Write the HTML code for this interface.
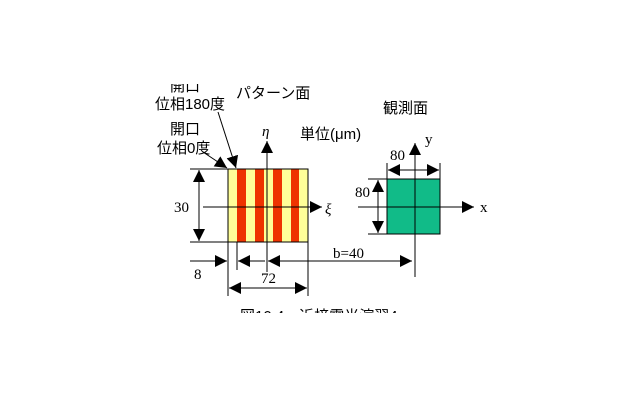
<!DOCTYPE html>
<html><head><meta charset="utf-8"><style>
html,body{margin:0;padding:0;background:#fff;width:640px;height:400px;overflow:hidden}
svg{display:block}
text{font-family:"Liberation Serif","Noto Sans CJK JP",serif;font-size:15px;fill:#000}
.j{font-family:"Liberation Sans","Noto Sans CJK JP",sans-serif}
</style></head><body>
<svg width="640" height="400" viewBox="0 0 640 400" xmlns="http://www.w3.org/2000/svg">
<defs>
<marker id="a" viewBox="0 0 10 10" refX="10" refY="5" markerWidth="12" markerHeight="12" markerUnits="userSpaceOnUse" orient="auto-start-reverse"><path d="M0,0L10,5L0,10z" fill="#000"/></marker>
</defs>
<g>
<rect x="228" y="169" width="9" height="73" fill="#ffff99"/>
<rect x="237" y="169" width="9" height="73" fill="#ee3300"/>
<rect x="246" y="169" width="9" height="73" fill="#ffff99"/>
<rect x="255" y="169" width="9" height="73" fill="#ee3300"/>
<rect x="264" y="169" width="9" height="73" fill="#ffff99"/>
<rect x="273" y="169" width="9" height="73" fill="#ee3300"/>
<rect x="282" y="169" width="9" height="73" fill="#ffff99"/>
<rect x="291" y="169" width="8" height="73" fill="#ee3300"/>
<rect x="299" y="169" width="9" height="73" fill="#ffff99"/>
<rect x="228" y="169" width="80" height="73" fill="none" stroke="#000"/>
</g>
<g stroke="#000" stroke-width="1" fill="none">
<line x1="190" y1="169" x2="228" y2="169"/>
<line x1="190" y1="242" x2="228" y2="242"/>
<line x1="199" y1="170" x2="199" y2="241" marker-start="url(#a)" marker-end="url(#a)"/>
<line x1="267" y1="272" x2="267" y2="141" marker-end="url(#a)"/>
<line x1="203" y1="207" x2="322" y2="207" marker-end="url(#a)"/>
<line x1="228" y1="242" x2="228" y2="296"/>
<line x1="237" y1="242" x2="237" y2="270"/>
<line x1="308" y1="242" x2="308" y2="296"/>
<line x1="190" y1="261" x2="227" y2="261" marker-end="url(#a)"/>
<line x1="265" y1="261" x2="238" y2="261" marker-end="url(#a)"/>
<line x1="412" y1="261" x2="268" y2="261" marker-end="url(#a)"/>
<line x1="268" y1="261" x2="412" y2="261" marker-end="url(#a)"/>
<line x1="229" y1="288" x2="307" y2="288" marker-start="url(#a)" marker-end="url(#a)"/>
<line x1="203" y1="152" x2="227" y2="168" marker-end="url(#a)"/>
<line x1="218" y1="112" x2="236" y2="168" marker-end="url(#a)"/>
</g>
<rect x="387" y="179" width="53" height="55" fill="#11bb88" stroke="#000"/>
<g stroke="#000" fill="none">
<line x1="415" y1="277" x2="415" y2="143" marker-end="url(#a)"/>
<line x1="358" y1="207" x2="474" y2="207" marker-end="url(#a)"/>
<line x1="387" y1="163" x2="387" y2="179"/>
<line x1="440" y1="163" x2="440" y2="179"/>
<line x1="388" y1="170" x2="439" y2="170" marker-start="url(#a)" marker-end="url(#a)"/>
<line x1="368" y1="179" x2="387" y2="179"/>
<line x1="368" y1="234" x2="387" y2="234"/>
<line x1="378" y1="180" x2="378" y2="233" marker-start="url(#a)" marker-end="url(#a)"/>
</g>
<text x="174" y="212">30</text>
<text x="194" y="279">8</text>
<text x="261" y="283">72</text>
<text x="333" y="258">b=40</text>
<text x="325" y="214" font-style="italic">ξ</text>
<text x="262" y="136" font-style="italic">η</text>
<text x="480" y="212">x</text>
<text x="425" y="144">y</text>
<text x="390" y="160">80</text>
<text x="355" y="197">80</text>
<text class="j" x="236" y="98">パターン面</text>
<text class="j" x="383" y="113">観測面</text>
<text class="j" x="300" y="139">単位(μm)</text>
<text class="j" x="170" y="91">開口</text>
<text class="j" x="155" y="109">位相180度</text>
<text class="j" x="170" y="134">開口</text>
<text class="j" x="157" y="153">位相0度</text>
<text class="j" x="240" y="321">図10.4　近接露光演習4</text>
<rect x="150" y="60" width="100" height="24" fill="#fff"/>
<rect x="200" y="313" width="260" height="20" fill="#fff"/>
</svg>
</body></html>
